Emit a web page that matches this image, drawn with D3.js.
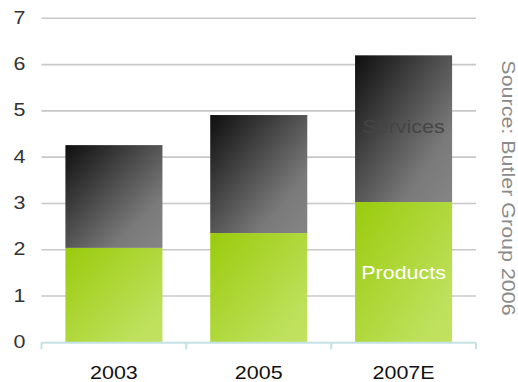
<!DOCTYPE html>
<html>
<head>
<meta charset="utf-8">
<script src="https://cdn.jsdelivr.net/npm/d3@7"></script>
<style>
  html, body { margin: 0; padding: 0; background: #fff; }
  svg { display: block; font-family: "Liberation Sans", Arial, sans-serif; }
</style>
</head>
<body>
<svg id="chart" width="518" height="382"></svg>
<script>
// Market size by year, split into products and services
const years = ["2003", "2005", "2007E"];
const products = [2.04, 2.36, 3.03];
const services = [2.22, 2.55, 3.17];
const yTicks = [0, 1, 2, 3, 4, 5, 6, 7];
const sourceNote = "Source: Butler Group 2006";

(function draw() {
const svg = d3.select("#chart");
const plotLeft = 41.5, plotRight = 476, plotTop = 18.3, plotBottom = 342.3;
const fontSize = 19, stretch = 1.13;

const x = d3.scaleBand().domain(years).range([plotLeft, plotRight])
  .paddingInner(0.33).paddingOuter(0.165);
const y = d3.scaleLinear().domain([0, 7]).range([plotBottom, plotTop]);

// text drawn slightly wide, as in the original slide typeface
function label(parent, tx, ty, str, anchor, fill, rot) {
  return parent.append("text")
    .attr("transform", `translate(${tx},${ty})${rot ? ` rotate(${rot})` : ""} scale(${stretch},1)`)
    .attr("text-anchor", anchor)
    .attr("font-size", fontSize)
    .attr("fill", fill)
    .text(str);
}

// diagonal gradients, dark/saturated at the top-left corner
const defs = svg.append("defs");
function grad(id, stops) {
  const g = defs.append("linearGradient").attr("id", id)
    .attr("x1", "0").attr("y1", "0").attr("x2", "1").attr("y2", "1");
  stops.forEach(([o, c]) => g.append("stop").attr("offset", o).attr("stop-color", c));
}
grad("gProd", [["0%", "#9acb0c"], ["80%", "#bde05a"], ["100%", "#c2e262"]]);
grad("gServ", [["0%", "#0e0e0e"], ["75%", "#7a7a7a"], ["100%", "#858585"]]);

// gridlines
svg.append("g").selectAll("line").data(yTicks.filter(d => d > 0)).join("line")
  .attr("x1", plotLeft).attr("x2", plotRight)
  .attr("y1", d => y(d)).attr("y2", d => y(d))
  .attr("stroke", "#c8c8c8").attr("stroke-width", 1.6);

// y tick labels
const yLab = svg.append("g");
yTicks.forEach(d => label(yLab, 25.5, y(d) + 5.5, d, "end", "#333"));

// bars
const rows = years.map((yr, i) => ({ yr, p: products[i], s: services[i] }));
const g = svg.append("g");
g.selectAll("rect.prod").data(rows).join("rect").attr("class", "prod")
  .attr("x", d => x(d.yr)).attr("width", x.bandwidth())
  .attr("y", d => y(d.p)).attr("height", d => y(0) - y(d.p))
  .attr("fill", "url(#gProd)");
g.selectAll("rect.serv").data(rows).join("rect").attr("class", "serv")
  .attr("x", d => x(d.yr)).attr("width", x.bandwidth())
  .attr("y", d => y(d.p + d.s)).attr("height", d => y(d.p) - y(d.p + d.s))
  .attr("fill", "url(#gServ)");

// x axis
const xAxis = svg.append("g");
xAxis.append("line").attr("x1", plotLeft).attr("x2", plotRight)
  .attr("y1", plotBottom + 0.5).attr("y2", plotBottom + 0.5)
  .attr("stroke", "#c4e2e6").attr("stroke-width", 2);
const edges = years.map(d => x(d) - x.step() * x.paddingInner() / 2);
edges[0] = plotLeft;
edges.push(plotRight);
xAxis.selectAll("line.tick").data(edges).join("line").attr("class", "tick")
  .attr("x1", d => d).attr("x2", d => d)
  .attr("y1", plotBottom).attr("y2", plotBottom + 7)
  .attr("stroke", "#c4e2e6").attr("stroke-width", 2);
years.forEach(d => label(xAxis, x(d) + x.bandwidth() / 2, 379.3, d, "middle", "#111"));

// series labels on the last bar
const last = rows[rows.length - 1];
const cx = x(last.yr) + x.bandwidth() / 2;
label(svg, cx, y(last.p / 2) + 6.5, "Products", "middle", "#fff");
label(svg, cx, y(last.p + last.s * 0.52) + 7, "Services", "middle", "#454545");

// source note, reading downwards along the right edge
label(svg, 501.5, 188, sourceNote, "middle", "#8a8a8a", 90);
})();
</script>
</body>
</html>
